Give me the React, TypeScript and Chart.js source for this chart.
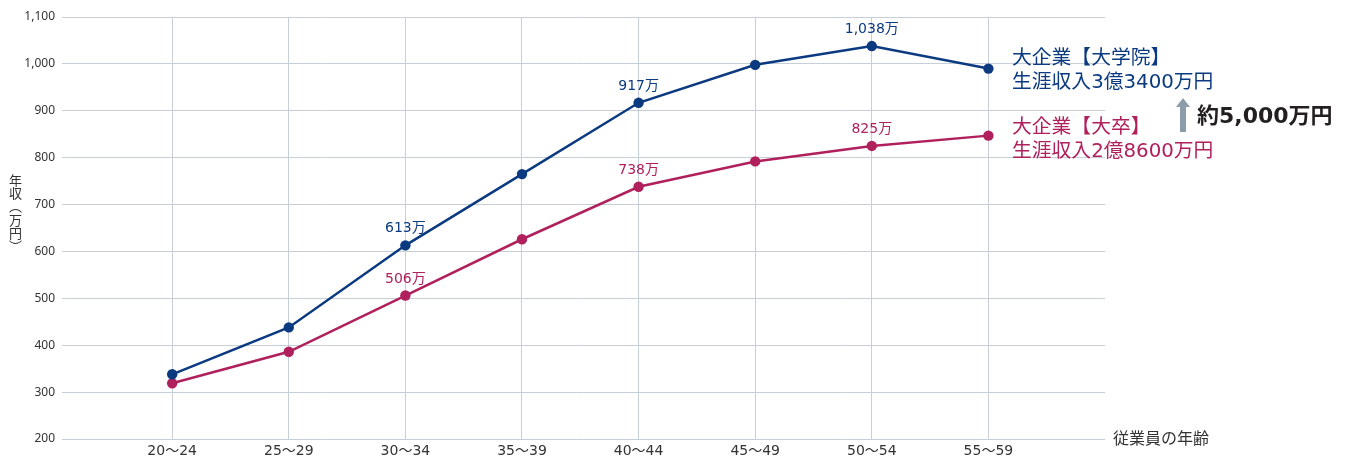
import React, { useEffect, useRef } from "react";
import { Chart, registerables } from "chart.js";

Chart.register(...registerables);

const categories = ["20〜24", "25〜29", "30〜34", "35〜39", "40〜44", "45〜49", "50〜54", "55〜59"];
const gradSchool = [338, 438, 613, 765, 917, 998, 1038, 990];
const university = [319, 386, 506, 626, 738, 792, 825, 847];
const gradLabelIdx = [2, 4, 6];
const univLabelIdx = [2, 4, 6];
const yTicks = [200, 300, 400, 500, 600, 700, 800, 900, 1000, 1100];

const BLUE = "#0b3a80";
const RED = "#b0205c";
const GRID = "#c6cfd8";
const FONT = "'Noto Sans CJK JP', 'Noto Sans', sans-serif";
const WIDE = "'DejaVu Sans', 'Noto Sans CJK JP', sans-serif";
const TICKF = "'Noto Sans', 'Noto Sans CJK JP', sans-serif";

const fmt = (v: number) => v.toLocaleString("en-US");

const overlay = {
  id: "overlay",
  afterDatasetsDraw(chart: any) {
    const ctx = chart.ctx;
    const area = chart.chartArea;
    ctx.save();
    const drawLabels = (dsIndex: number, idxs: number[], values: number[], color: string) => {
      const meta = chart.getDatasetMeta(dsIndex);
      ctx.fillStyle = color;
      ctx.font = `14px ${WIDE}`;
      ctx.textAlign = "center";
      ctx.textBaseline = "alphabetic";
      idxs.forEach((i) => {
        const p = meta.data[i];
        ctx.fillText(`${fmt(values[i])}万`, p.x, p.y - 13);
      });
    };
    drawLabels(0, gradLabelIdx, gradSchool, BLUE);
    drawLabels(1, univLabelIdx, university, RED);

    // y-axis title (vertical writing)
    const chars = ["年", "収", "︵", "万", "円", "︶"];
    ctx.fillStyle = "#333";
    ctx.font = `13px ${FONT}`;
    ctx.textAlign = "center";
    ctx.textBaseline = "middle";
    let y = 180;
    chars.forEach((c) => {
      ctx.fillText(c, 15.5, y);
      y += 13.2;
    });

    // x-axis title
    ctx.textAlign = "left";
    ctx.font = `16px ${FONT}`;
    ctx.fillText("従業員の年齢", area.right + 8, area.bottom - 1);

    // annotations
    const tx = 1012;
    ctx.font = `19.8px ${WIDE}`;
    ctx.textBaseline = "middle";
    ctx.fillStyle = BLUE;
    ctx.fillText("大企業【大学院】", tx, 59);
    ctx.fillText("生涯収入3億3400万円", tx, 83);
    ctx.fillStyle = RED;
    ctx.fillText("大企業【大卒】", tx, 128);
    ctx.fillText("生涯収入2億8600万円", tx, 152);

    // arrow
    ctx.fillStyle = "#8c9daa";
    const ax = 1183;
    ctx.fillRect(ax - 3, 106, 6, 26);
    ctx.beginPath();
    ctx.moveTo(ax, 98);
    ctx.lineTo(ax + 7, 107);
    ctx.lineTo(ax - 7, 107);
    ctx.closePath();
    ctx.fill();

    ctx.fillStyle = "#231f20";
    ctx.font = `bold 22px ${WIDE}`;
    ctx.fillText("約5,000万円", 1197, 117);
    ctx.restore();
  },
};

export default function App() {
  const ref = useRef<HTMLCanvasElement>(null);
  useEffect(() => {
    document.body.style.margin = "0";
    const chart = new Chart(ref.current!, {
      type: "line",
      data: {
        datasets: [
          {
            label: "大企業【大学院】",
            data: gradSchool.map((v, i) => ({ x: i, y: v })),
            borderColor: BLUE,
            backgroundColor: BLUE,
            borderWidth: 2.5,
            pointRadius: 5.2,
            pointBorderWidth: 0,
          },
          {
            label: "大企業【大卒】",
            data: university.map((v, i) => ({ x: i, y: v })),
            borderColor: RED,
            backgroundColor: RED,
            borderWidth: 2.5,
            pointRadius: 5.2,
            pointBorderWidth: 0,
          },
        ],
      },
      options: {
        responsive: false,
        animation: false,
        layout: { padding: { top: 17, right: 243, left: 0, bottom: 0 } },
        plugins: { legend: { display: false }, tooltip: { enabled: false } },
        scales: {
          x: {
            type: "linear",
            min: -0.945,
            max: 8.0,
            afterBuildTicks: (scale: any) => {
              scale.ticks = categories.map((_, i) => ({ value: i }));
            },
            afterFit: (scale: any) => {
              scale.height = 24;
            },
            ticks: {
              callback: (v: any) => categories[v] ?? "",
              color: "#333",
              font: { family: WIDE, size: 14 },
              padding: 4,
              maxRotation: 0,
              autoSkip: false,
            },
            grid: { color: GRID, lineWidth: 1, drawTicks: false },
            border: { display: false },
          },
          y: {
            min: 200,
            max: 1100,
            afterBuildTicks: (scale: any) => {
              scale.ticks = yTicks.map((v) => ({ value: v }));
            },
            afterFit: (scale: any) => {
              scale.width = 62;
            },
            ticks: {
              callback: (v: any) => fmt(Number(v)),
              color: "#333",
              font: { family: TICKF, size: 12 },
              padding: 7,
            },
            grid: { color: GRID, lineWidth: 1, drawTicks: false },
            border: { display: false },
          },
        },
      },
      plugins: [overlay],
    } as any);
    return () => chart.destroy();
  }, []);
  return (
    <div style={{ position: "absolute", left: 0, top: 0, width: 1348, height: 463 }}>
      <canvas ref={ref} width={1348} height={463} />
    </div>
  );
}
